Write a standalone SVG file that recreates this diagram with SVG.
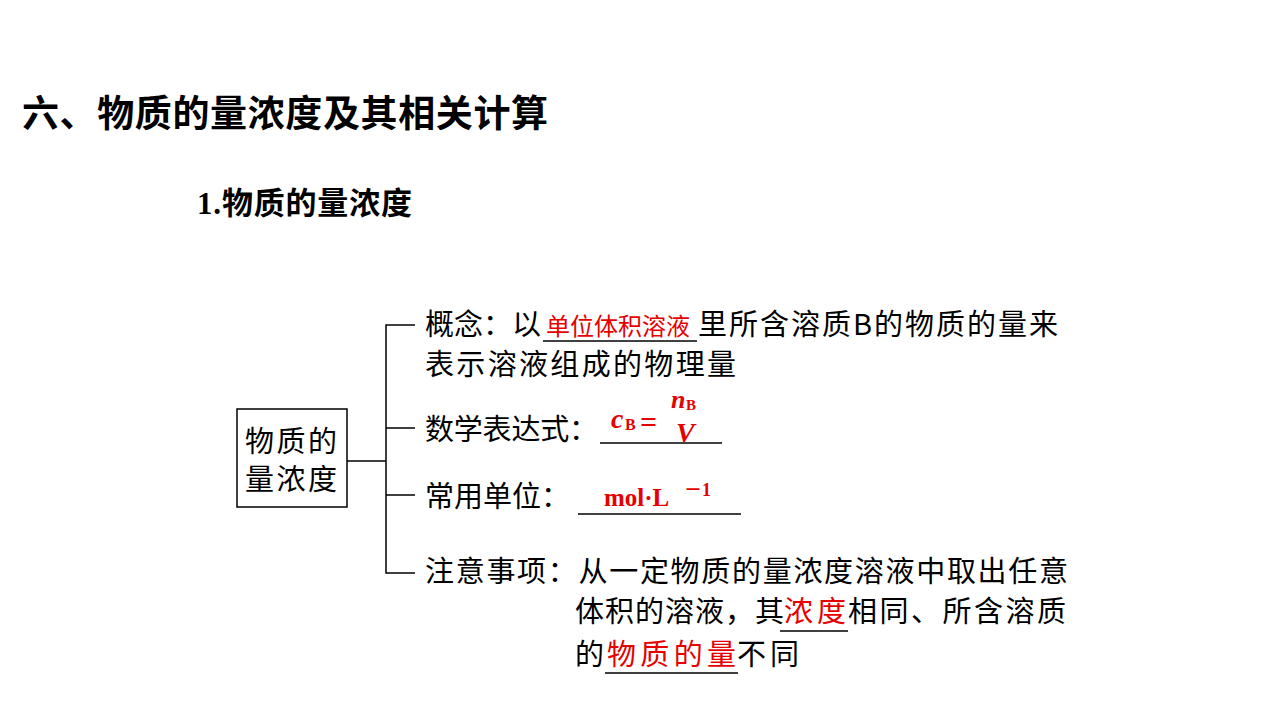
<svg xmlns="http://www.w3.org/2000/svg" width="1280" height="720" viewBox="0 0 1280 720">
<style>
text{font-family:"Noto Sans CJK SC","Liberation Sans",sans-serif;fill:#000;font-size:29px}
.r{fill:#e60000}
.m{font-family:"Liberation Serif","Noto Sans CJK SC",serif;font-weight:bold}
.ln{stroke:#000;stroke-width:1.5;fill:none}
</style>
<rect width="1280" height="720" fill="#fff"/>
<text x="22" y="127" style="font-size:37px" font-weight="bold" textLength="526">六、物质的量浓度及其相关计算</text>
<text x="197" y="214" style="font-size:31px" font-weight="bold" textLength="215"><tspan class="m">1.</tspan>物质的量浓度</text>
<g id="root">
<rect x="237" y="409" width="110" height="98" class="ln"/>
<text x="245" y="452" textLength="92">物质的</text>
<text x="245" y="490" textLength="92">量浓度</text>
</g>
<g id="connectors" class="ln">
<path d="M347 461H386M415 325H386V573H415M386 428H415M386 495H415"/>
</g>
<g id="concept">
<text x="425" y="335" textLength="116">概念：以</text>
<text x="546" y="335" class="r" style="font-size:24px" textLength="144">单位体积溶液</text>
<line x1="543" y1="341" x2="697" y2="341" class="ln"/>
<text x="698" y="335" textLength="360">里所含溶质B的物质的量来</text>
<text x="425" y="375" textLength="311">表示溶液组成的物理量</text>
</g>
<g id="formula">
<text x="425" y="440" textLength="173">数学表达式：</text>
<text x="611" y="428" class="m r" style="font-size:28px;font-style:italic">c</text>
<text x="625" y="430" class="m r" style="font-size:16px">B</text>
<text x="640" y="432" class="m r" style="font-size:30px">=</text>
<text x="671" y="408" class="m r" style="font-size:26px;font-style:italic">n</text>
<text x="686" y="410" class="m r" style="font-size:15px">B</text>
<text x="676" y="442" class="m r" style="font-size:28px;font-style:italic">V</text>
<line x1="600" y1="443" x2="722" y2="443" class="ln"/>
</g>
<g id="unit">
<text x="425" y="507" textLength="145">常用单位：</text>
<text x="604" y="506" class="m r" style="font-size:25px">mol·L</text>
<text x="684" y="496" class="m r" style="font-size:18px">－1</text>
<line x1="578" y1="514" x2="741" y2="514" class="ln"/>
</g>
<g id="note">
<text x="425" y="582" textLength="643">注意事项：从一定物质的量浓度溶液中取出任意</text>
<text x="575" y="622" textLength="209">体积的溶液，其</text>
<text x="784" y="622" class="r" textLength="62">浓度</text>
<line x1="780" y1="631" x2="848" y2="631" class="ln"/>
<text x="848" y="622" textLength="218">相同、所含溶质</text>
<text x="575" y="665">的</text>
<text x="607" y="665" class="r" textLength="129">物质的量</text>
<line x1="605" y1="673" x2="738" y2="673" class="ln"/>
<text x="737" y="665" textLength="62">不同</text>
</g>
</svg>
